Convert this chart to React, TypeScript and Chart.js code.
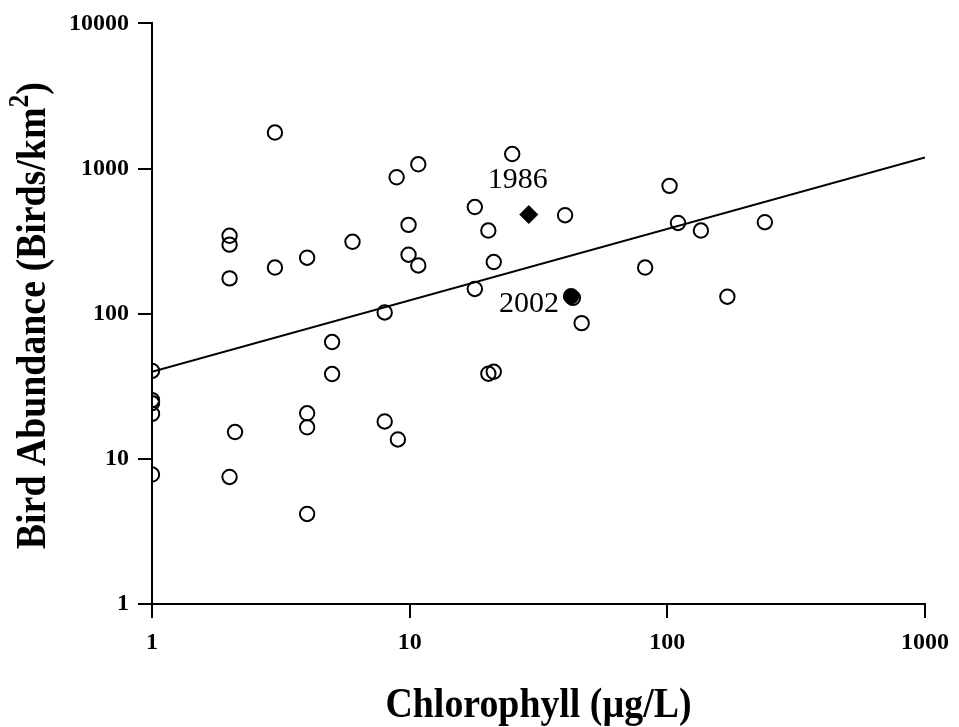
import React, { useEffect, useRef } from "react";
import { Chart, registerables } from "chart.js";

Chart.register(...registerables);

// ---- Data ----
const chlorophyll = [
  1, 1, 1, 1, 1,
  2, 2, 2, 2, 2.1,
  3, 3,
  4, 4, 4, 4,
  5, 5, 6,
  8, 8, 8.9, 9,
  9.9, 9.9, 10.8, 10.8,
  17.9, 17.9, 20.2, 20.2, 21.2, 21.2, 25,
  40.1, 43, 46.5, 82, 102, 110, 135, 171, 239,
];
const birdAbundance = [
  40.4, 25.4, 24.2, 20.4, 7.8,
  344, 299, 175, 7.5, 15.3,
  1770, 208,
  243, 20.6, 16.5, 4.17,
  63.8, 38.4, 313,
  102, 18.1, 871, 13.6,
  409, 255, 1070, 215,
  543, 148, 374, 38.6, 227, 39.8, 1259,
  477, 128.6, 86.1, 208, 760, 422, 374, 131, 427,
];

const year1986Chl = [29.0];
const year1986Birds = [482];
const year2002Chl = [42.3];
const year2002Birds = [131.8];
const annotationLabels = ["1986", "2002"];

const fitChl = [1, 1000];
const fitBirds = [39.8, 1190];

const xTickValues = [1, 10, 100, 1000];
const yTickValues = [1, 10, 100, 1000, 10000];

const xTitle = "Chlorophyll (µg/L)";
const yTitleMain = "Bird Abundance (Birds/km";
const yTitleSup = "2";
const yTitleEnd = ")";

const SERIF = '"Liberation Serif", "Times New Roman", serif';

const labelsPlugin = {
  id: "customLabels",
  afterDraw(chart: any) {
    const ctx = chart.ctx as CanvasRenderingContext2D;
    const xs = chart.scales.x;
    const ys = chart.scales.y;
    const area = chart.chartArea;
    ctx.save();
    ctx.fillStyle = "#000";

    // annotations
    ctx.font = `30px ${SERIF}`;
    ctx.textBaseline = "middle";
    const p86x = xs.getPixelForValue(year1986Chl[0]);
    const p86y = ys.getPixelForValue(year1986Birds[0]);
    ctx.textAlign = "center";
    ctx.fillText(annotationLabels[0], p86x - 11, p86y - 34);
    const p02x = xs.getPixelForValue(year2002Chl[0]);
    const p02y = ys.getPixelForValue(year2002Birds[0]);
    ctx.textAlign = "right";
    ctx.fillText(annotationLabels[1], p02x - 12, p02y + 8);

    const squeeze = 0.88;
    const titleFont = `bold 43px ${SERIF}`;
    const supFont = `bold 29px ${SERIF}`;

    // x title (slightly condensed)
    ctx.save();
    ctx.font = titleFont;
    ctx.textAlign = "center";
    ctx.textBaseline = "alphabetic";
    ctx.translate((area.left + area.right) / 2, 717);
    ctx.scale(squeeze, 1);
    ctx.fillText(xTitle, 0, 0);
    ctx.restore();

    // y title (rotated, with superscript)
    ctx.save();
    ctx.translate(45, (area.top + area.bottom) / 2 + 2);
    ctx.rotate(-Math.PI / 2);
    ctx.scale(squeeze, 1);
    ctx.textBaseline = "alphabetic";
    ctx.font = titleFont;
    const w1 = ctx.measureText(yTitleMain).width;
    const w3 = ctx.measureText(yTitleEnd).width;
    ctx.font = supFont;
    const w2 = ctx.measureText(yTitleSup).width;
    const total = w1 + w2 + w3;
    let x0 = -total / 2;
    ctx.textAlign = "left";
    ctx.font = titleFont;
    ctx.fillText(yTitleMain, x0, 0);
    x0 += w1;
    ctx.font = supFont;
    ctx.fillText(yTitleSup, x0, -17);
    x0 += w2;
    ctx.font = titleFont;
    ctx.fillText(yTitleEnd, x0, 0);
    ctx.restore();

    ctx.restore();
  },
};

export default function App() {
  const canvasRef = useRef<HTMLCanvasElement | null>(null);

  useEffect(() => {
    if (!canvasRef.current) return;
    const openPts = chlorophyll.map((x, i) => ({ x, y: birdAbundance[i] }));
    const tickFont = { family: SERIF, size: 24, weight: "bold" as const };

    const chart = new Chart(canvasRef.current, {
      type: "scatter",
      data: {
        datasets: [
          {
            label: "1986",
            data: [{ x: year1986Chl[0], y: year1986Birds[0] }],
            pointStyle: "rectRot",
            pointRadius: 9,
            backgroundColor: "#000",
            borderColor: "#000",
            borderWidth: 1,
            order: 0,
          },
          {
            label: "2002",
            data: [{ x: year2002Chl[0], y: year2002Birds[0] }],
            pointStyle: "circle",
            pointRadius: 7.2,
            backgroundColor: "#000",
            borderColor: "#000",
            borderWidth: 2,
            order: 1,
          },
          {
            label: "Lakes",
            data: openPts,
            pointStyle: "circle",
            pointRadius: 7.2,
            backgroundColor: "rgba(0,0,0,0)",
            borderColor: "#000",
            borderWidth: 2,
            order: 2,
          },
          {
            label: "Fit",
            type: "line",
            data: fitChl.map((x, i) => ({ x, y: fitBirds[i] })),
            borderColor: "#000",
            borderWidth: 2,
            pointRadius: 0,
            fill: false,
            tension: 0,
            order: 3,
          } as any,
        ],
      },
      options: {
        responsive: true,
        maintainAspectRatio: false,
        animation: false,
        events: [],
        layout: { padding: { top: 19, right: 33, left: 0, bottom: 0 } },
        plugins: {
          legend: { display: false },
          tooltip: { enabled: false },
          title: { display: false },
        },
        scales: {
          x: {
            type: "logarithmic",
            position: "bottom",
            min: 1,
            max: 1000,
            afterBuildTicks: (scale: any) => {
              scale.ticks = xTickValues.map((v) => ({ value: v }));
            },
            afterFit: (scale: any) => {
              scale.height = 123;
            },
            ticks: {
              color: "#000",
              font: tickFont,
              padding: 10,
              autoSkip: false,
              maxRotation: 0,
              callback: (v: any) => String(v),
            },
            grid: {
              drawOnChartArea: false,
              drawTicks: true,
              tickLength: 14,
              color: "#000",
              lineWidth: 2,
            },
            border: { display: true, color: "#000", width: 2 },
          },
          y: {
            type: "logarithmic",
            position: "left",
            min: 1,
            max: 10000,
            afterBuildTicks: (scale: any) => {
              scale.ticks = yTickValues.map((v) => ({ value: v }));
            },
            afterFit: (scale: any) => {
              scale.width = 152;
            },
            ticks: {
              color: "#000",
              font: tickFont,
              padding: 9,
              autoSkip: false,
              callback: (v: any) => String(v),
            },
            grid: {
              drawOnChartArea: false,
              drawTicks: true,
              tickLength: 14,
              color: "#000",
              lineWidth: 2,
            },
            border: { display: true, color: "#000", width: 2 },
          },
        },
      },
      plugins: [labelsPlugin],
    });
    return () => chart.destroy();
  }, []);

  return (
    <div
      style={{
        position: "fixed",
        left: 0,
        top: 0,
        width: 959,
        height: 727,
        background: "#fff",
      }}
    >
      <canvas ref={canvasRef} />
    </div>
  );
}
